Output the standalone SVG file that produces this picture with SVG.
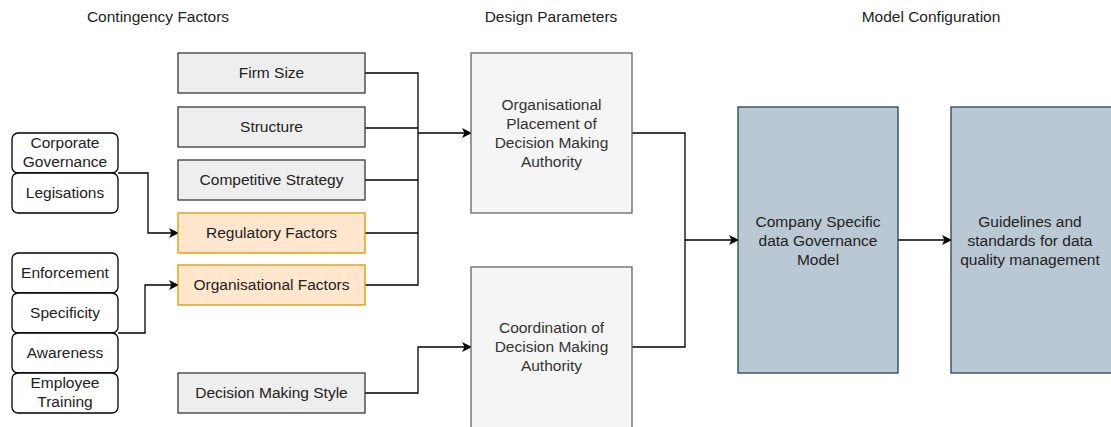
<svg xmlns="http://www.w3.org/2000/svg" width="1111" height="427" viewBox="0 0 1111 427">
  <style>
    text { font-family: "Liberation Sans", Arial, sans-serif; font-size: 15.5px; text-anchor: middle; }
    .hdr { fill: #222222; }
    .src rect { fill: #ffffff; stroke: #000000; stroke-width: 1.3; }
    .src text { fill: #222222; }
    .factor rect { fill: #eeeeee; stroke: #36393d; stroke-width: 1.3; }
    .factor text { fill: #222222; }
    .orange rect { fill: #ffe6cc; stroke: #d79b00; stroke-width: 1.3; }
    .param rect { fill: #f5f5f5; stroke: #666666; stroke-width: 1.3; }
    .param text { fill: #333333; }
    .model rect { fill: #bac8d3; stroke: #23445d; stroke-width: 1.3; }
    .model text { fill: #222222; }
    .edge { fill: none; stroke: #000000; stroke-width: 1.3; }
  </style>
  <defs>
    <marker id="arrow" viewBox="0 0 10 10" refX="9" refY="5" markerWidth="10" markerHeight="10" markerUnits="userSpaceOnUse" orient="auto">
      <path d="M0,0 L10,5 L0,10 L2.5,5 Z" fill="#000000"/>
    </marker>
  </defs>

  <rect width="1111" height="427" fill="#ffffff"/>

  <!-- column headings -->
  <g id="headings" class="hdr">
    <text x="158" y="21.5">Contingency Factors</text>
    <text x="551" y="21.5">Design Parameters</text>
    <text x="931" y="21.5">Model Configuration</text>
  </g>

  <!-- connectors -->
  <g id="connectors">
    <path class="edge" d="M118,173 H148 V233 H178" marker-end="url(#arrow)"/>
    <path class="edge" d="M118,333 H145 V285 H178" marker-end="url(#arrow)"/>
    <path class="edge" d="M365,73 H418 V285 H365"/>
    <path class="edge" d="M365,128 H418"/>
    <path class="edge" d="M365,180 H418"/>
    <path class="edge" d="M365,233 H418"/>
    <path class="edge" d="M418,133 H471" marker-end="url(#arrow)"/>
    <path class="edge" d="M365,393 H418 V347 H471" marker-end="url(#arrow)"/>
    <path class="edge" d="M632,133 H685 V347 H632"/>
    <path class="edge" d="M685,240 H738" marker-end="url(#arrow)"/>
    <path class="edge" d="M898,240 H951" marker-end="url(#arrow)"/>
  </g>

  <!-- source items -->
  <g id="corporate-governance" class="src">
    <rect x="12" y="133" width="106" height="40" rx="6"/>
    <text x="65" y="147.5">Corporate</text>
    <text x="65" y="167">Governance</text>
  </g>
  <g id="legisations" class="src">
    <rect x="12" y="173" width="106" height="40" rx="6"/>
    <text x="65" y="197.5">Legisations</text>
  </g>
  <g id="enforcement" class="src">
    <rect x="12" y="253" width="106" height="40" rx="6"/>
    <text x="65" y="277.5">Enforcement</text>
  </g>
  <g id="specificity" class="src">
    <rect x="12" y="293" width="106" height="40" rx="6"/>
    <text x="65" y="317.5">Specificity</text>
  </g>
  <g id="awareness" class="src">
    <rect x="12" y="333" width="106" height="40" rx="6"/>
    <text x="65" y="357.5">Awareness</text>
  </g>
  <g id="employee-training" class="src">
    <rect x="12" y="373" width="106" height="40" rx="6"/>
    <text x="65" y="388">Employee</text>
    <text x="65" y="407">Training</text>
  </g>

  <!-- contingency factors -->
  <g id="firm-size" class="factor">
    <rect x="178" y="53" width="187" height="40"/>
    <text x="271.5" y="77.5">Firm Size</text>
  </g>
  <g id="structure" class="factor">
    <rect x="178" y="107" width="187" height="40"/>
    <text x="271.5" y="131.5">Structure</text>
  </g>
  <g id="competitive-strategy" class="factor">
    <rect x="178" y="160" width="187" height="40"/>
    <text x="271.5" y="184.5">Competitive Strategy</text>
  </g>
  <g id="regulatory-factors" class="factor orange">
    <rect x="178" y="213" width="187" height="40"/>
    <text x="271.5" y="237.5">Regulatory Factors</text>
  </g>
  <g id="organisational-factors" class="factor orange">
    <rect x="178" y="265" width="187" height="40"/>
    <text x="271.5" y="289.5">Organisational Factors</text>
  </g>
  <g id="decision-making-style" class="factor">
    <rect x="178" y="373" width="187" height="40"/>
    <text x="271.5" y="397.5">Decision Making Style</text>
  </g>

  <!-- design parameters -->
  <g id="placement" class="param">
    <rect x="471" y="53" width="161" height="160"/>
    <text x="551.5" y="110">Organisational</text>
    <text x="551.5" y="129">Placement of</text>
    <text x="551.5" y="148">Decision Making</text>
    <text x="551.5" y="167">Authority</text>
  </g>
  <g id="coordination" class="param">
    <rect x="471" y="267" width="161" height="162"/>
    <text x="551.5" y="333">Coordination of</text>
    <text x="551.5" y="352">Decision Making</text>
    <text x="551.5" y="371">Authority</text>
  </g>

  <!-- model configuration -->
  <g id="governance-model" class="model">
    <rect x="738" y="107" width="160" height="266"/>
    <text x="818" y="226.5">Company Specific</text>
    <text x="818" y="245.5">data Governance</text>
    <text x="818" y="264.5">Model</text>
  </g>
  <g id="guidelines" class="model">
    <rect x="951" y="107" width="162" height="266"/>
    <text x="1030" y="226.5">Guidelines and</text>
    <text x="1030" y="245.5">standards for data</text>
    <text x="1030" y="264.5">quality management</text>
  </g>
</svg>
